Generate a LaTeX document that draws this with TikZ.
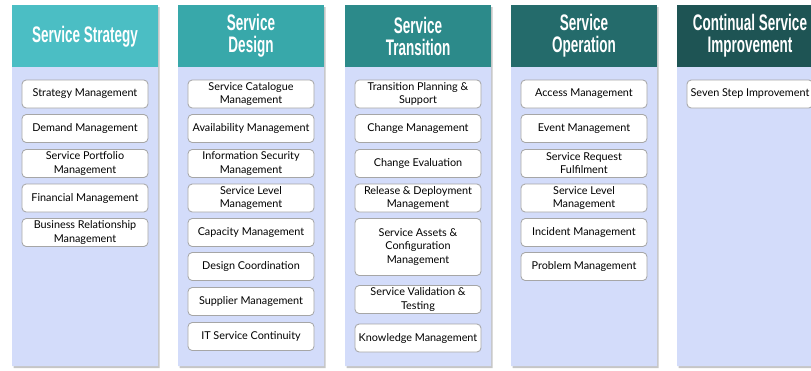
\documentclass[tikz,border=0pt]{standalone}
\usepackage{fontspec}
\setmainfont{Lato}
\newfontfamily\headfont{Liberation Sans}[FakeStretch=0.6]

\definecolor{headA}{HTML}{4BBEC4}
\definecolor{headB}{HTML}{38A8AA}
\definecolor{headC}{HTML}{2C8A8A}
\definecolor{headD}{HTML}{246B6B}
\definecolor{headE}{HTML}{1E5454}
\definecolor{panel}{HTML}{D3DCFA}

\tikzset{
  item/.style={draw=gray!70, fill=white, rounded corners=3pt, line width=0.6pt,
               minimum width=3.15cm, minimum height=0.7cm, inner sep=1pt,
               align=center, font=\fontsize{7.7}{9.3}\selectfont},
  headtext/.style={text=white, align=center,
               font=\headfont\bfseries\fontsize{16}{15.6}\selectfont},
  shade/.style={fill=gray!45}
}

\begin{document}
\begin{tikzpicture}[x=0.025cm, y=-0.025cm]
  \useasboundingbox (0,0) rectangle (811,370);
  \clip (0,0) rectangle (811,370);
  % panels
  \fill [shade] (13.5,7) rectangle (159.5,368)
                (179.5,7) rectangle (325.5,368)
                (346.5,7) rectangle (492.5,368)
                (512.5,7) rectangle (658.5,368)
                (678.5,7) rectangle (824.5,368);
  \fill [panel] (12,67) rectangle (158,366)
                (178,67) rectangle (324,366)
                (345,67) rectangle (491,366)
                (511,67) rectangle (657,366)
                (677,67) rectangle (823,366);
  \fill [headA] (12,5) rectangle (158,67);
  \fill [headB] (178,5) rectangle (324,67);
  \fill [headC] (345,5) rectangle (491,67);
  \fill [headD] (511,5) rectangle (657,67);
  \fill [headE] (677,5) rectangle (823,67);

  % headers
  \node [headtext] (strategy)   at (85,37)  {Service Strategy};
  \node [headtext] (design)     at (251,36) {Service\\Design};
  \node [headtext] (transition) at (418,36) {Service\\Transition};
  \node [headtext] (operation)  at (584,36) {Service\\Operation};
  \node [headtext] (csi)        at (750,36) {Continual Service\\Improvement};

  % service strategy
  \node [item] (stratmgmt) at (85,94)  {Strategy Management};
  \node [item] (demand)    at (85,128.5) {Demand Management};
  \node [item] (portfolio) at (85,163.5) {Service Portfolio\\Management};
  \node [item] (financial) at (85,198) {Financial Management};
  \node [item] (busrel)    at (85,232.5) {Business Relationship\\Management};

  % service design
  \node [item] (catalogue)    at (251,94)    {Service Catalogue\\Management};
  \node [item] (availability) at (251,128.5) {Availability Management};
  \node [item] (infosec)      at (251,163.5) {Information Security\\Management};
  \node [item] (servlevel)    at (251,198)   {Service Level\\Management};
  \node [item] (capacity)     at (251,232.5) {Capacity Management};
  \node [item] (designcoord)  at (251,266.5) {Design Coordination};
  \node [item] (supplier)     at (251,301.5) {Supplier Management};
  \node [item] (continuity)   at (251,336.5) {IT Service Continuity};

  % service transition
  \node [item] (planning)   at (418,94)    {Transition Planning \&\\Support};
  \node [item] (change)     at (418,128.5) {Change Management};
  \node [item] (evaluation) at (418,163.5) {Change Evaluation};
  \node [item] (release)    at (418,198)   {Release \& Deployment\\Management};
  \node [item, minimum height=1.425cm] (assets) at (418,247)
        {Service Assets \&\\Configuration\\Management};
  \node [item] (validation) at (418,299.5) {Service Validation \&\\Testing};
  \node [item] (knowledge)  at (418,338)   {Knowledge Management};

  % service operation
  \node [item] (access)   at (584,94)    {Access Management};
  \node [item] (event)    at (584,128.5) {Event Management};
  \node [item] (request)  at (584,163.5) {Service Request\\Fulfilment};
  \node [item] (oplevel)  at (584,198)   {Service Level\\Management};
  \node [item] (incident) at (584,232.5) {Incident Management};
  \node [item] (problem)  at (584,266.5) {Problem Management};

  % continual service improvement
  \node [item] (sevenstep) at (750,94) {Seven Step Improvement};
\end{tikzpicture}
\end{document}
